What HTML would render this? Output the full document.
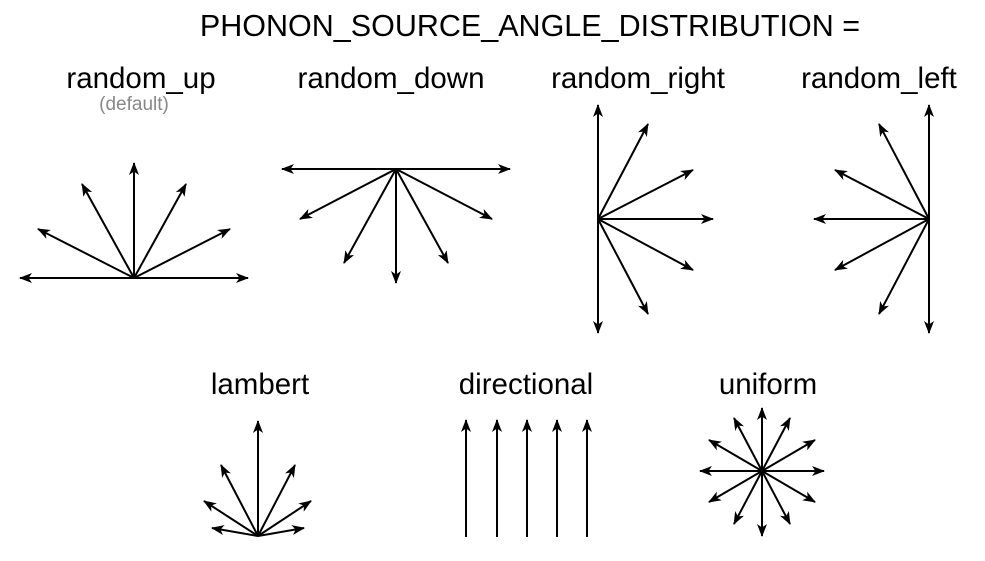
<!DOCTYPE html>
<html><head><meta charset="utf-8"><style>html,body{margin:0;padding:0;background:#fff}svg{display:block}</style></head>
<body>
<svg width="985" height="561" viewBox="0 0 985 561" xmlns="http://www.w3.org/2000/svg" font-family="Liberation Sans, Arial, sans-serif">
<defs>
<marker id="a" viewBox="0 0 13 10" refX="12" refY="5" markerWidth="13" markerHeight="10" orient="auto" markerUnits="userSpaceOnUse">
<path d="M0,0 L13,5 L0,10 L3.5,5 z" fill="#000"/>
</marker>
</defs>
<style>line{stroke:#000;stroke-width:2;marker-end:url(#a)}</style>
<text x="530" y="36" font-size="30.5" text-anchor="middle">PHONON_SOURCE_ANGLE_DISTRIBUTION =</text>
<text x="141" y="88" font-size="29.5" text-anchor="middle">random_up</text>
<text x="134" y="110" font-size="19" fill="#888" text-anchor="middle">(default)</text>
<text x="391" y="88" font-size="29.5" text-anchor="middle">random_down</text>
<text x="638" y="88" font-size="29.5" text-anchor="middle">random_right</text>
<text x="879" y="88" font-size="29.5" text-anchor="middle">random_left</text>
<text x="260" y="394" font-size="29.5" text-anchor="middle">lambert</text>
<text x="526" y="394" font-size="29.5" text-anchor="middle">directional</text>
<text x="768" y="394" font-size="29.5" text-anchor="middle">uniform</text>

<g>
<line x1="134" y1="278" x2="20" y2="278"/><line x1="134" y1="278" x2="248" y2="278"/>
<line x1="134" y1="278" x2="134" y2="163"/>
<line x1="134" y1="278" x2="82" y2="184"/><line x1="134" y1="278" x2="186" y2="184"/>
<line x1="134" y1="278" x2="38" y2="229"/><line x1="134" y1="278" x2="230" y2="229"/>
</g>
<g>
<line x1="396" y1="169" x2="282" y2="169"/><line x1="396" y1="169" x2="510" y2="169"/>
<line x1="396" y1="169" x2="396" y2="283"/>
<line x1="396" y1="169" x2="300" y2="219"/><line x1="396" y1="169" x2="492" y2="219"/>
<line x1="396" y1="169" x2="344" y2="263"/><line x1="396" y1="169" x2="448" y2="263"/>
</g>
<g>
<line x1="598" y1="219" x2="598" y2="105"/><line x1="598" y1="219" x2="598" y2="333"/>
<line x1="598" y1="219" x2="713" y2="219"/>
<line x1="598" y1="219" x2="648" y2="124"/><line x1="598" y1="219" x2="648" y2="314"/>
<line x1="598" y1="219" x2="693" y2="170"/><line x1="598" y1="219" x2="693" y2="270"/>
</g>
<g>
<line x1="929" y1="219" x2="929" y2="105"/><line x1="929" y1="219" x2="929" y2="333"/>
<line x1="929" y1="219" x2="814" y2="219"/>
<line x1="929" y1="219" x2="879" y2="124"/><line x1="929" y1="219" x2="879" y2="314"/>
<line x1="929" y1="219" x2="835" y2="170"/><line x1="929" y1="219" x2="835" y2="270"/>
</g>
<g>
<line x1="258" y1="536" x2="258" y2="421"/>
<line x1="258" y1="536" x2="221" y2="465"/><line x1="258" y1="536" x2="295" y2="465"/>
<line x1="258" y1="536" x2="204" y2="501"/><line x1="258" y1="536" x2="311" y2="501"/>
<line x1="258" y1="536" x2="212" y2="528"/><line x1="258" y1="536" x2="304" y2="528"/>
</g>
<g>
<line x1="466" y1="537" x2="466" y2="420"/><line x1="497" y1="537" x2="497" y2="420"/>
<line x1="527" y1="537" x2="527" y2="420"/><line x1="557" y1="537" x2="557" y2="420"/>
<line x1="587" y1="537" x2="587" y2="420"/>
</g>
<g>
<line x1="762" y1="471" x2="762" y2="408"/><line x1="762" y1="471" x2="762" y2="536"/>
<line x1="762" y1="471" x2="700" y2="471"/><line x1="762" y1="471" x2="824" y2="471"/>
<line x1="762" y1="471" x2="709" y2="440"/><line x1="762" y1="471" x2="815" y2="440"/>
<line x1="762" y1="471" x2="709" y2="502"/><line x1="762" y1="471" x2="815" y2="502"/>
<line x1="762" y1="471" x2="734" y2="418"/><line x1="762" y1="471" x2="790" y2="418"/>
<line x1="762" y1="471" x2="734" y2="524"/><line x1="762" y1="471" x2="790" y2="524"/>
</g>
</svg>
</body></html>
